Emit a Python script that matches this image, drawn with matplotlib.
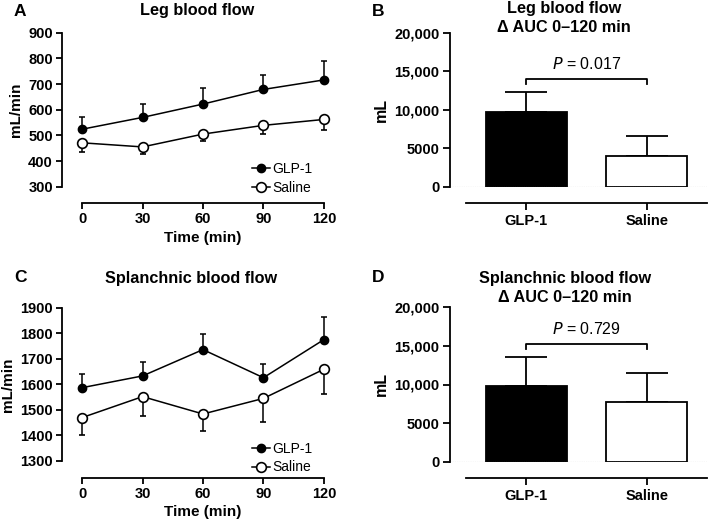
import matplotlib.pyplot as plt
import numpy as np

plt.rcParams['font.family'] = ['Liberation Sans', 'DejaVu Sans']

# time course data
time = [0, 30, 60, 90, 120]
leg_glp1 = [524, 570, 622, 679, 716]
leg_glp1_err = [49, 53, 61, 57, 73]
leg_saline = [471, 455, 505, 539, 562]
leg_saline_err = [35, 28, 27, 34, 42]

spl_glp1 = [1587, 1633, 1736, 1626, 1775]
spl_glp1_err = [55, 56, 61, 54, 90]
spl_saline = [1470, 1552, 1484, 1545, 1659]
spl_saline_err = [68, 74, 65, 91, 98]

# AUC data
groups = ["GLP-1", "Saline"]
leg_auc = [9740, 3990]
leg_auc_err = [2520, 2630]
spl_auc = [9770, 7770]
spl_auc_err = [3750, 3680]
p_values = ["0.017", "0.729"]

LW = 1.3
W, H = 709, 529

fig = plt.figure(figsize=(7.09, 5.29), dpi=100)


def add_ax(l, r, t, b):
    return fig.add_axes([l / W, 1 - b / H, (r - l) / W, (b - t) / H])


def fig_text(x, y, s, **kw):
    fig.text(x / W, 1 - y / H, s, **kw)


def style_axes(ax, ticklen):
    for s in ["top", "right"]:
        ax.spines[s].set_visible(False)
    ax.spines["left"].set_linewidth(LW)
    ax.spines["bottom"].set_linewidth(LW)
    ax.spines["bottom"].set_position(("outward", 12))
    ax.tick_params(width=LW, length=ticklen, labelsize=10.5, pad=2.5)
    for lab in ax.get_xticklabels() + ax.get_yticklabels():
        lab.set_fontweight("bold")


def time_panel(ax, glp, glp_err, sal, sal_err, ylim, leg_y):
    ax.errorbar(time, glp, yerr=[np.zeros(len(glp)), glp_err], fmt="-o", color="black",
                mfc="black", mec="black", ms=6, lw=1.1, capsize=2.5, elinewidth=1.1,
                capthick=1.1, label="GLP-1", zorder=3)
    ax.errorbar(time, sal, yerr=[sal_err, np.zeros(len(sal))], fmt="-o", color="black",
                mfc="white", mec="black", mew=1.2, ms=7, lw=1.1, capsize=2.5, elinewidth=1.1,
                capthick=1.1, label="Saline", zorder=3)
    ax.set_xlim(-10, 130)
    ax.set_ylim(*ylim)
    ax.set_yticks(np.arange(ylim[0], ylim[1] + 1, 100))
    ax.set_xticks(time)
    ax.spines["left"].set_bounds(*ylim)
    ax.spines["bottom"].set_bounds(0, 120)
    style_axes(ax, 4)
    ax.set_ylabel("mL/min", fontsize=11, fontweight="bold", labelpad=4)
    ax.set_xlabel("Time (min)", fontsize=11, fontweight="bold", labelpad=3)
    handles, labels = ax.get_legend_handles_labels()
    handles = [h[0] for h in handles]
    ax.legend(handles, labels, loc="lower right", bbox_to_anchor=(0.907, leg_y), frameon=False,
              fontsize=10, handlelength=1.3, handletextpad=0.15, labelspacing=0.35,
              borderaxespad=0)


def auc_panel(ax, vals, errs, pval, bracket_y):
    x = np.arange(len(groups))
    ax.bar(x, vals, width=0.67, color=["black", "white"], edgecolor="black", linewidth=1.3, zorder=2)
    ax.errorbar(x, vals, yerr=[np.zeros(len(vals)), errs], fmt="none", ecolor="black",
                elinewidth=1.3, capsize=15, capthick=1.3, zorder=1)
    ax.axhline(0, color="gray", lw=0.8, ls=(0, (1, 1)), zorder=3)
    ax.set_xlim(-0.634, 1.5)
    ax.set_ylim(0, 20000)
    ax.set_yticks([0, 5000, 10000, 15000, 20000])
    ax.set_yticklabels(["0", "5000", "10,000", "15,000", "20,000"])
    ax.set_xticks(x)
    ax.set_xticklabels(groups)
    ax.spines["left"].set_bounds(0, 20000)
    ax.spines["bottom"].set_bounds(-0.5, 1.5)
    style_axes(ax, 5)
    ax.set_ylabel("mL", fontsize=11.5, fontweight="bold", labelpad=4)
    tip = 650
    ax.plot([0, 0, 1, 1], [bracket_y - tip, bracket_y, bracket_y, bracket_y - tip],
            color="black", lw=1.3)
    ax.text(0.5, bracket_y + 900, "$\\mathit{P}$ = " + pval, ha="center", va="bottom", fontsize=11.5)


axA = add_ax(62, 344, 32.7, 186.7)
axB = add_ax(450, 707, 32.7, 186.7)
axC = add_ax(62, 344, 307.7, 461)
axD = add_ax(450, 707, 307.3, 461.7)

time_panel(axA, leg_glp1, leg_glp1_err, leg_saline, leg_saline_err, (300, 900), -0.09)
time_panel(axC, spl_glp1, spl_glp1_err, spl_saline, spl_saline_err, (1300, 1900), -0.124)
auc_panel(axB, leg_auc, leg_auc_err, p_values[0], 14000)
auc_panel(axD, spl_auc, spl_auc_err, p_values[1], 15250)

# titles and panel letters
tkw = dict(fontsize=11.7, fontweight="bold", ha="center", va="center")
fig_text(197, 10, "Leg blood flow", **tkw)
fig_text(191, 278, "Splanchnic blood flow", **tkw)
fig_text(564, 8, "Leg blood flow", **tkw)
fig_text(564, 27, "\u0394 AUC 0\u2013120 min", **tkw)
fig_text(565, 278, "Splanchnic blood flow", **tkw)
fig_text(565, 298, "\u0394 AUC 0\u2013120 min", **tkw)

lkw = dict(fontsize=12.5, fontweight="bold", ha="left", va="center")
fig_text(14, 12, "A", **lkw)
fig_text(372, 12, "B", **lkw)
fig_text(14, 278, "C", **lkw)
fig_text(372, 278, "D", **lkw)

fig.savefig("out.png", dpi=100)
